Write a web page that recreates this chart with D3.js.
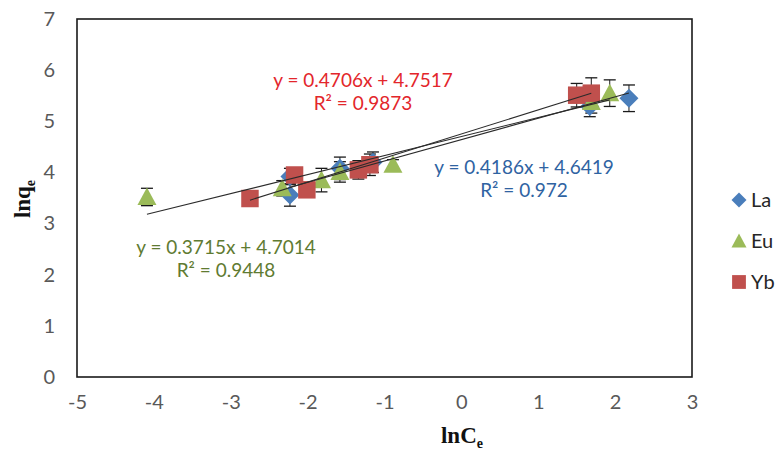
<!DOCTYPE html>
<html>
<head>
<meta charset="utf-8">
<script src="https://cdn.jsdelivr.net/npm/d3@7"></script>
<style>
  html, body { margin: 0; padding: 0; background: #fff; }
  svg { display: block; }
</style>
</head>
<body>
<script>
// ---- data ----
const seriesNames = ["La", "Eu", "Yb"];
const laX = [-2.23, -2.23, -1.58, -1.15, 1.67, 2.18];
const laY = [3.92, 3.56, 4.08, 4.20, 5.29, 5.45];
const laErr = [0.16, 0.22, 0.22, 0.2, 0.2, 0.26];
const euX = [-4.09, -2.33, -1.82, -1.58, -0.89, 1.69, 1.93];
const euY = [3.52, 3.69, 3.85, 4.01, 4.15, 5.38, 5.55];
const euErr = [0.17, 0.15, 0.23, 0.2, 0.1, 0.22, 0.26];
const ybX = [-2.75, -2.17, -2.01, -1.34, -1.19, 1.50, 1.69];
const ybY = [3.49, 3.95, 3.66, 4.05, 4.15, 5.51, 5.55];
const ybErr = [0.05, 0.13, 0.1, 0.18, 0.21, 0.23, 0.3];
const slopes = [0.4186, 0.3715, 0.4706];
const intercepts = [4.6419, 4.7014, 4.7517];
const eqTexts = ["y = 0.4186x + 4.6419", "y = 0.3715x + 4.7014", "y = 0.4706x + 4.7517"];
const r2Texts = ["R² = 0.972", "R² = 0.9448", "R² = 0.9873"];
const xTicks = [-5, -4, -3, -2, -1, 0, 1, 2, 3];
const yTicks = [0, 1, 2, 3, 4, 5, 6, 7];

// ---- styles ----
const W = 776, H = 457;
const pL = 77, pR = 692, pT = 19, pB = 377;
const markerColors = ["#4A7EBB", "#9BBB59", "#C0504D"];
const eqColors = ["#2F63A2", "#5F7B32", "#E3262B"];
const eqPos = [[524, 174], [226, 254], [363, 87]];
const font = "Lato, 'Open Sans', sans-serif";

const series = [
  {name: seriesNames[0], x: laX, y: laY, e: laErr, shape: "diamond"},
  {name: seriesNames[1], x: euX, y: euY, e: euErr, shape: "triangle"},
  {name: seriesNames[2], x: ybX, y: ybY, e: ybErr, shape: "square"}
];

const svg = d3.select("body").append("svg").attr("width", W).attr("height", H);
const x = d3.scaleLinear().domain([-5, 3]).range([pL, pR]);
const y = d3.scaleLinear().domain([0, 7]).range([pB, pT]);

function shapePath(shape, s) {
  const p = d3.path();
  const h = s / 2;
  if (shape === "diamond") {
    p.moveTo(0, -h); p.lineTo(h, 0); p.lineTo(0, h); p.lineTo(-h, 0); p.closePath();
  } else if (shape === "triangle") {
    p.moveTo(0, -h); p.lineTo(h, h * 0.85); p.lineTo(-h, h * 0.85); p.closePath();
  } else {
    p.rect(-h * 0.92, -h * 0.92, h * 1.84, h * 1.84);
  }
  return p.toString();
}

const fmt = d => String(d);

// axes (labels only, no tick marks)
const xAxis = d3.axisBottom(x).tickValues(xTicks).tickSize(0).tickPadding(18).tickFormat(fmt);
const gx = svg.append("g").attr("transform", `translate(0,${pB})`).call(xAxis);
gx.select(".domain").remove();
gx.selectAll("text").attr("font-family", font).attr("font-size", 20).attr("fill", "#595959");

const yAxis = d3.axisLeft(y).tickValues(yTicks).tickSize(0).tickPadding(22).tickFormat(fmt);
const gy = svg.append("g").attr("transform", `translate(${pL},0)`).call(yAxis);
gy.select(".domain").remove();
gy.selectAll("text").attr("font-family", font).attr("font-size", 20).attr("fill", "#595959");

// frame
svg.append("rect").attr("x", pL).attr("y", pT).attr("width", pR - pL).attr("height", pB - pT)
  .attr("fill", "none").attr("stroke", "#1a1a1a").attr("stroke-width", 1.6);

// error bars
series.forEach((s, i) => {
  const g = svg.append("g");
  const pts = s.x.map((v, k) => ({x: v, y: s.y[k], e: s.e[k]}));
  const eb = g.selectAll("g.eb").data(pts).enter().append("g").attr("class", "eb");
  eb.append("line").attr("x1", d => x(d.x)).attr("x2", d => x(d.x))
    .attr("y1", d => y(d.y - d.e)).attr("y2", d => y(d.y + d.e))
    .attr("stroke", "#1a1a1a").attr("stroke-width", 1);
  [-1, 1].forEach(sg => {
    eb.append("line").attr("x1", d => x(d.x) - 6).attr("x2", d => x(d.x) + 6)
      .attr("y1", d => y(d.y + sg * d.e)).attr("y2", d => y(d.y + sg * d.e))
      .attr("stroke", "#1a1a1a").attr("stroke-width", 1.3);
  });
});
// markers
series.forEach((s, i) => {
  const pts = s.x.map((v, k) => ({x: v, y: s.y[k]}));
  svg.append("g").selectAll("path").data(pts).enter().append("path")
    .attr("d", shapePath(s.shape, 19))
    .attr("transform", d => `translate(${x(d.x)},${y(d.y)})`)
    .attr("fill", markerColors[i]);
});

// trendlines
series.forEach((s, i) => {
  const x0 = d3.min(s.x), x1 = d3.max(s.x);
  svg.append("line")
    .attr("x1", x(x0)).attr("y1", y(slopes[i] * x0 + intercepts[i]))
    .attr("x2", x(x1)).attr("y2", y(slopes[i] * x1 + intercepts[i]))
    .attr("stroke", "#2b2b2b").attr("stroke-width", 1.1);
});

// equations
series.forEach((s, i) => {
  const g = svg.append("g").attr("font-family", font).attr("font-size", 19)
    .attr("fill", eqColors[i]).attr("text-anchor", "middle");
  g.append("text").attr("x", eqPos[i][0]).attr("y", eqPos[i][1]).text(eqTexts[i]);
  g.append("text").attr("x", eqPos[i][0]).attr("y", eqPos[i][1] + 23).text(r2Texts[i]);
});

// axis titles
const yt = svg.append("text").attr("transform", "translate(30,199) rotate(-90)")
  .attr("text-anchor", "middle").attr("font-family", "'Liberation Serif', serif")
  .attr("font-weight", "bold").attr("font-size", 23).attr("fill", "#111");
yt.append("tspan").text("lnq");
yt.append("tspan").attr("font-size", 14).attr("dy", 5).text("e");

const xt = svg.append("text").attr("x", 462).attr("y", 443)
  .attr("text-anchor", "middle").attr("font-family", "'Liberation Serif', serif")
  .attr("font-weight", "bold").attr("font-size", 23).attr("fill", "#111");
xt.append("tspan").text("lnC");
xt.append("tspan").attr("font-size", 14).attr("dy", 5).text("e");

// legend
const lg = svg.append("g");
series.forEach((s, i) => {
  const cy = 200 + i * 41;
  lg.append("path").attr("d", shapePath(s.shape, 15)).attr("transform", `translate(739,${cy})`)
    .attr("fill", markerColors[i]);
  lg.append("text").attr("x", 751).attr("y", cy + 7).attr("font-family", font)
    .attr("font-size", 20).attr("fill", "#262626").text(s.name);
});
</script>
</body>
</html>
